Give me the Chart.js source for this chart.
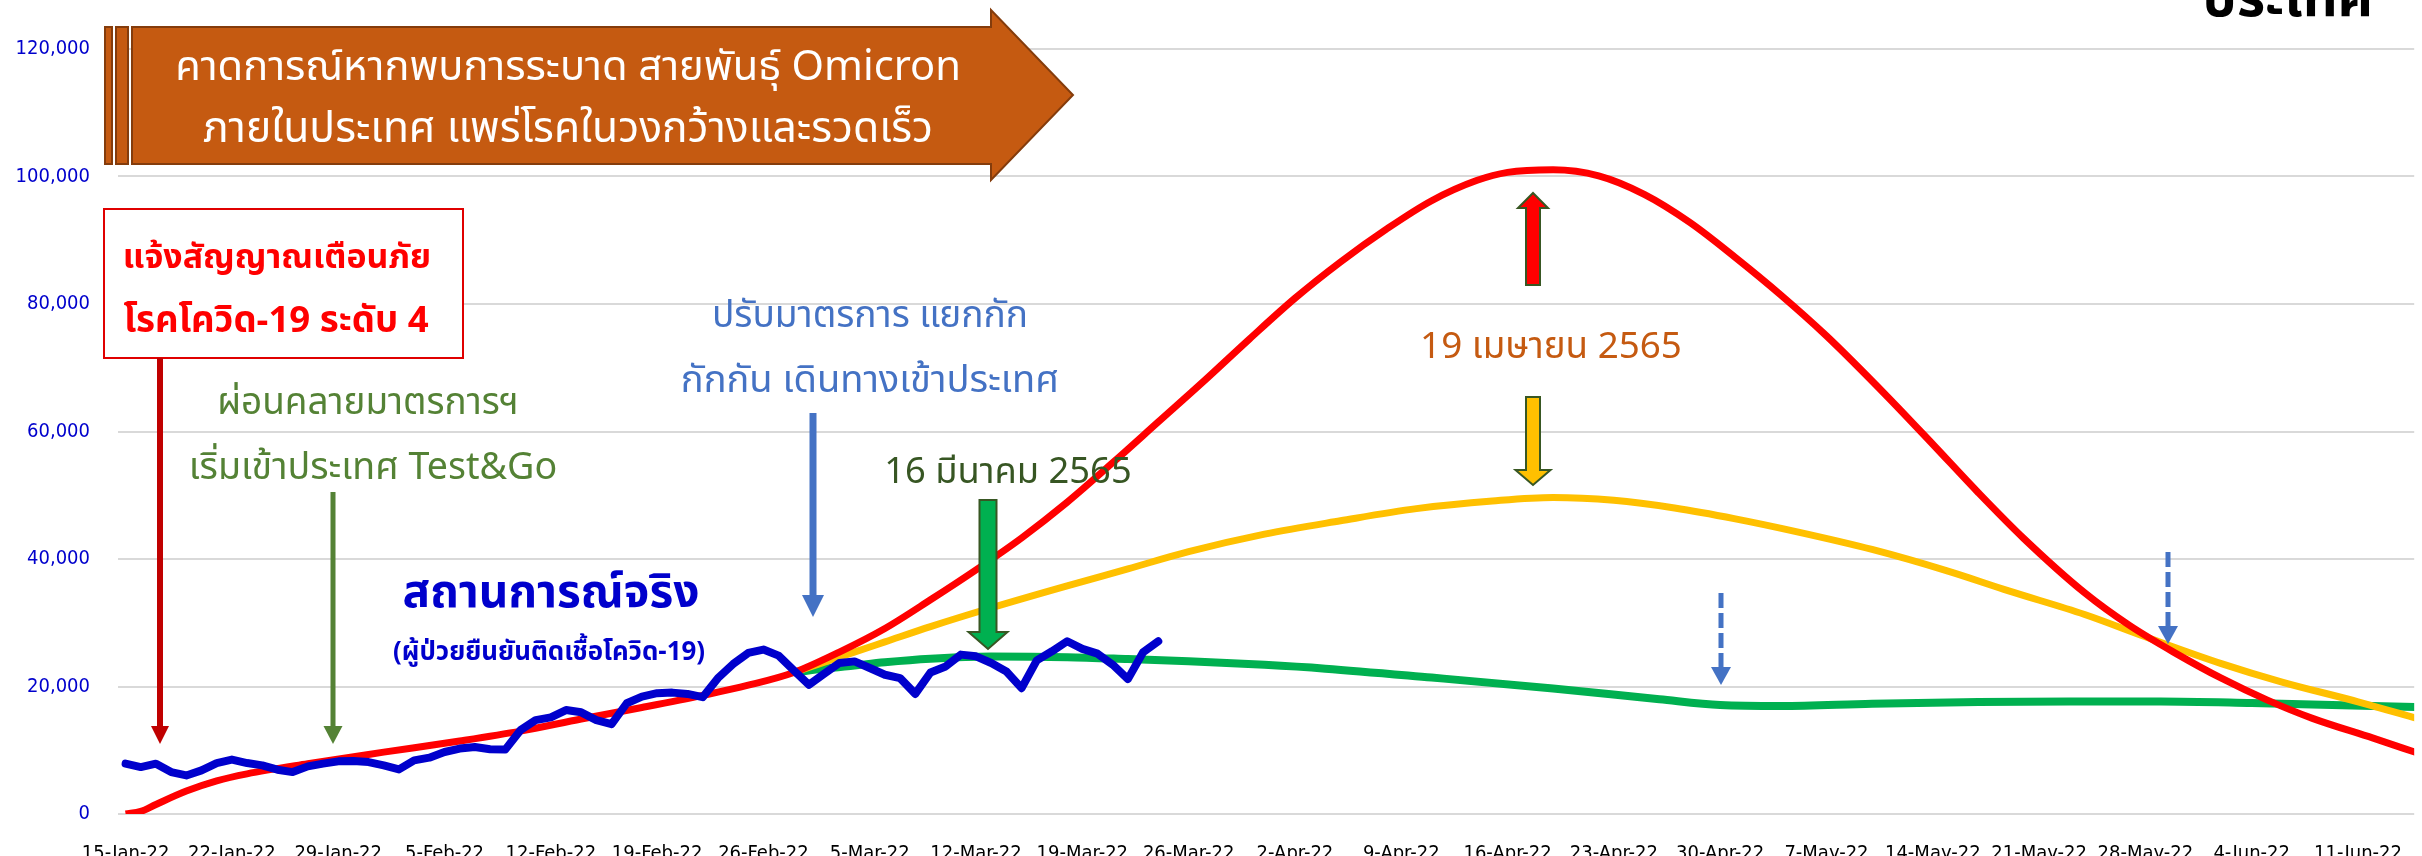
<!DOCTYPE html>
<html>
<head>
<meta charset="utf-8">
<script src="https://cdn.jsdelivr.net/npm/chart.js@4.4.1/dist/chart.umd.min.js"></script>
<style>
  html, body { margin: 0; padding: 0; background: #fff; overflow: hidden; }
  canvas { display: block; }
</style>
</head>
<body>
<canvas id="omicronChart" width="2422" height="856"></canvas>
<script>
// weekly tick labels, day 0 = 15-Jan-22
const weekLabels = [
  '15-Jan-22', '22-Jan-22', '29-Jan-22', '5-Feb-22', '12-Feb-22', '19-Feb-22',
  '26-Feb-22', '5-Mar-22', '12-Mar-22', '19-Mar-22', '26-Mar-22', '2-Apr-22',
  '9-Apr-22', '16-Apr-22', '23-Apr-22', '30-Apr-22', '7-May-22', '14-May-22',
  '21-May-22', '28-May-22', '4-Jun-22', '11-Jun-22'
];

// actual daily cases, 15-Jan-22 .. 24-Mar-22
const actualCases = [
  7900, 7360, 7900, 6570, 6050, 6840, 7990, 8530, 7990, 7630,
  6950, 6570, 7470, 7900, 8260, 8310, 8150, 7630, 7000, 8420,
  8840, 9730, 10260, 10520, 10150, 10100, 13150, 14730, 15160, 16310,
  15950, 14730, 14100, 17370, 18410, 18950, 19040, 18830, 18320, 21310,
  23520, 25260, 25790, 24840, 22520, 20260, 22000, 23690, 23940, 22900,
  21840, 21310, 18840, 22200, 23150, 25000, 24730, 23690, 22360, 19740,
  24100, 25520, 27100, 25900, 25150, 23420, 21160, 25360, 27100
];

// projection, red curve
const highDays = [0, 1, 2, 4, 6, 8, 12, 17, 22, 26, 30, 34, 38, 41, 44, 47, 50, 53, 56, 59,
  62, 65, 68, 71, 74, 77, 80, 83, 86, 89, 91, 94, 97, 100, 103, 106, 109, 112, 116, 119,
  122, 125, 129, 132, 135, 138, 141, 144, 148, 151];
const highCases = [0, 400, 1500, 3600, 5200, 6300, 7900, 9700, 11450, 13000, 14900, 16700, 18600, 20200, 22200, 25400, 29100, 33600, 38300, 43300,
  48900, 55100, 61500, 67900, 74500, 80900, 86600, 91700, 96200, 99400, 100650, 101050, 100100, 97200, 92800, 87300, 81400, 75000, 65500, 58000,
  50400, 43200, 34700, 29500, 25200, 21300, 17900, 15000, 11900, 9500];

// projection, yellow curve
const midDays = [44, 47, 50, 53, 57, 62, 66, 70, 75, 80, 85, 90, 94, 98, 102, 106, 110, 115, 120, 124, 129, 133, 138, 142, 147, 151];
const midCases = [22200, 24600, 27000, 29400, 32350, 35800, 38450, 41150, 43900, 46000, 47900, 49100, 49650, 49200, 48000, 46300, 44300, 41500, 38100, 35000, 31300, 27800, 23600, 20700, 17600, 14900];

// projection, green curve
const lowDays = [44, 46, 48, 50, 53, 57, 62, 66, 70, 75, 79, 86, 94, 101, 105, 109, 115, 122, 128, 134, 140, 151];
const lowCases = [22200, 22800, 23300, 23800, 24350, 24700, 24600, 24300, 23950, 23400, 22800, 21400, 19700, 18000, 17100, 16950, 17300, 17550, 17650, 17650, 17400, 16750];

const thaiFont = '"Noto Sans Thai", "Noto Sans Thai UI", Loma, Garuda, Sarabun, "Leelawadee UI", Tahoma, "DejaVu Sans", sans-serif';
const tickFont = '"DejaVu Sans Condensed", "DejaVu Sans", sans-serif';

function toPoints(days, values) {
  return days.map((d, i) => ({ x: d, y: values[i] }));
}

// callout texts: centre x, baseline y, target width
const notes = [
  { text: 'คาดการณ์หากพบการระบาด สายพันธุ์ Omicron', x: 568, y: 80, w: 786, color: '#FFFFFF', weight: 'normal' },
  { text: 'ภายในประเทศ แพร่โรคในวงกว้างและรวดเร็ว', x: 568, y: 142, w: 730, color: '#FFFFFF', weight: 'normal' },
  { text: 'แจ้งสัญญาณเตือนภัย', x: 277, y: 268, w: 308, color: '#FF0000', weight: 'bold' },
  { text: 'โรคโควิด-19 ระดับ 4', x: 276, y: 332, w: 305, color: '#FF0000', weight: 'bold' },
  { text: 'ผ่อนคลายมาตรการฯ', x: 368, y: 414, w: 302, color: '#548235', weight: 'normal' },
  { text: 'เริ่มเข้าประเทศ Test&Go', x: 373, y: 479, w: 369, color: '#548235', weight: 'normal' },
  { text: 'ปรับมาตรการ แยกกัก', x: 870, y: 327, w: 316, color: '#4472C4', weight: 'normal' },
  { text: 'กักกัน เดินทางเข้าประเทศ', x: 870, y: 392, w: 379, color: '#4472C4', weight: 'normal' },
  { text: 'สถานการณ์จริง', x: 551, y: 607, w: 297, color: '#0000CC', weight: 'bold' },
  { text: '(ผู้ป่วยยืนยันติดเชื้อโควิด-19)', x: 549, y: 660, w: 312, color: '#0000CC', weight: 'bold' },
  { text: '16 มีนาคม 2565', x: 1008, y: 483, w: 247, color: '#375623', weight: 'normal' },
  { text: '19 เมษายน 2565', x: 1551, y: 358, w: 262, color: '#C55A11', weight: 'normal' },
  { text: 'ประเทศ', x: 2288, y: 16, w: 171, color: '#000000', weight: 'bold' }
];

function drawNote(ctx, n) {
  ctx.font = n.weight + ' 40px ' + thaiFont;
  const size = 40 * n.w / ctx.measureText(n.text).width;
  ctx.font = n.weight + ' ' + size.toFixed(1) + 'px ' + thaiFont;
  ctx.fillStyle = n.color;
  ctx.textAlign = 'center';
  ctx.textBaseline = 'alphabetic';
  ctx.fillText(n.text, n.x, n.y);
}

// thin arrow pointing down
function lineArrow(ctx, x, y0, tip, lw, headW, headH, color, dash) {
  ctx.save();
  ctx.strokeStyle = color;
  ctx.fillStyle = color;
  ctx.lineWidth = lw;
  if (dash) ctx.setLineDash(dash);
  ctx.beginPath();
  ctx.moveTo(x, y0);
  ctx.lineTo(x, tip - headH);
  ctx.stroke();
  ctx.setLineDash([]);
  ctx.beginPath();
  ctx.moveTo(x - headW / 2, tip - headH);
  ctx.lineTo(x + headW / 2, tip - headH);
  ctx.lineTo(x, tip);
  ctx.closePath();
  ctx.fill();
  ctx.restore();
}

// block arrow, tail at y0, head base at y1, tip at y2 (up or down)
function blockArrow(ctx, x, y0, y1, y2, shaftW, headW, fill, stroke) {
  ctx.save();
  ctx.beginPath();
  ctx.moveTo(x - shaftW / 2, y0);
  ctx.lineTo(x - shaftW / 2, y1);
  ctx.lineTo(x - headW / 2, y1);
  ctx.lineTo(x, y2);
  ctx.lineTo(x + headW / 2, y1);
  ctx.lineTo(x + shaftW / 2, y1);
  ctx.lineTo(x + shaftW / 2, y0);
  ctx.closePath();
  ctx.fillStyle = fill;
  ctx.fill();
  ctx.strokeStyle = stroke;
  ctx.lineWidth = 2;
  ctx.stroke();
  ctx.restore();
}

const notesPlugin = {
  id: 'notes',
  afterDatasetsDraw(chart) {
    const ctx = chart.ctx;
    ctx.save();

    // banner arrow
    ctx.fillStyle = '#C55A11';
    ctx.strokeStyle = '#843C0C';
    ctx.lineWidth = 2;
    [[105, 112], [116, 128]].forEach(([a, b]) => {
      ctx.fillRect(a, 27, b - a, 137);
      ctx.strokeRect(a, 27, b - a, 137);
    });
    ctx.beginPath();
    ctx.moveTo(132, 27);
    ctx.lineTo(991, 27);
    ctx.lineTo(991, 10);
    ctx.lineTo(1073, 95);
    ctx.lineTo(991, 180);
    ctx.lineTo(991, 164);
    ctx.lineTo(132, 164);
    ctx.closePath();
    ctx.fill();
    ctx.stroke();

    // red warning box
    ctx.fillStyle = '#FFFFFF';
    ctx.fillRect(104, 209, 359, 149);
    ctx.strokeStyle = '#E00000';
    ctx.lineWidth = 2;
    ctx.strokeRect(104, 209, 359, 149);

    lineArrow(ctx, 160, 358, 744, 6, 18, 18, '#C00000');
    lineArrow(ctx, 333, 492, 744, 5, 19, 18, '#548235');
    lineArrow(ctx, 813, 413, 617, 7, 22, 22, '#4472C4');
    lineArrow(ctx, 1721, 593, 685, 5, 20, 18, '#4472C4', [15, 5]);
    lineArrow(ctx, 2168, 552, 644, 5, 20, 18, '#4472C4', [15, 5]);

    blockArrow(ctx, 988, 500, 632, 649, 17, 39, '#00B050', '#385723');
    blockArrow(ctx, 1533, 285, 208, 193, 14, 30, '#FF0000', '#385723');
    blockArrow(ctx, 1533, 397, 470, 485, 14, 35, '#FFC000', '#385723');

    notes.forEach(n => drawNote(ctx, n));
    ctx.restore();
  }
};

const ctx = document.getElementById('omicronChart');

new Chart(ctx, {
  type: 'line',
  data: {
    datasets: [
      {
        label: 'สถานการณ์จริง',
        data: actualCases.map((v, i) => ({ x: i, y: v })),
        borderColor: '#0000CC',
        borderWidth: 8,
        borderJoinStyle: 'round',
        borderCapStyle: 'round',
        tension: 0,
        pointRadius: 0
      },
      {
        label: 'red',
        data: toPoints(highDays, highCases),
        borderColor: '#FF0000',
        borderWidth: 7,
        cubicInterpolationMode: 'monotone',
        pointRadius: 0
      },
      {
        label: 'yellow',
        data: toPoints(midDays, midCases),
        borderColor: '#FFC000',
        borderWidth: 7,
        cubicInterpolationMode: 'monotone',
        pointRadius: 0
      },
      {
        label: 'green',
        data: toPoints(lowDays, lowCases),
        borderColor: '#00B050',
        borderWidth: 8,
        cubicInterpolationMode: 'monotone',
        pointRadius: 0
      }
    ]
  },
  options: {
    responsive: false,
    animation: false,
    devicePixelRatio: 1,
    layout: { padding: { top: 49, left: 0, right: 0, bottom: 0 } },
    plugins: {
      legend: { display: false },
      tooltip: { enabled: false }
    },
    scales: {
      x: {
        type: 'linear',
        min: -0.5,
        max: 150.7,
        afterFit: (scale) => { scale.height = 42; },
        grid: { display: false },
        border: { display: false },
        ticks: {
          stepSize: 7,
          includeBounds: false,
          autoSkip: false,
          maxRotation: 0,
          padding: 20,
          color: '#000000',
          font: { family: tickFont, size: 20 },
          callback: (value) => weekLabels[value / 7] ?? ''
        }
      },
      y: {
        min: 0,
        max: 120000,
        afterFit: (scale) => { scale.width = 118; },
        grid: { color: '#D9D9D9', lineWidth: 2, drawTicks: false },
        border: { display: false },
        ticks: {
          stepSize: 20000,
          padding: 28,
          color: '#0000CC',
          font: { family: tickFont, size: 20 },
          callback: (value) => value.toLocaleString('en-US')
        }
      }
    }
  },
  plugins: [notesPlugin]
});
</script>
</body>
</html>
